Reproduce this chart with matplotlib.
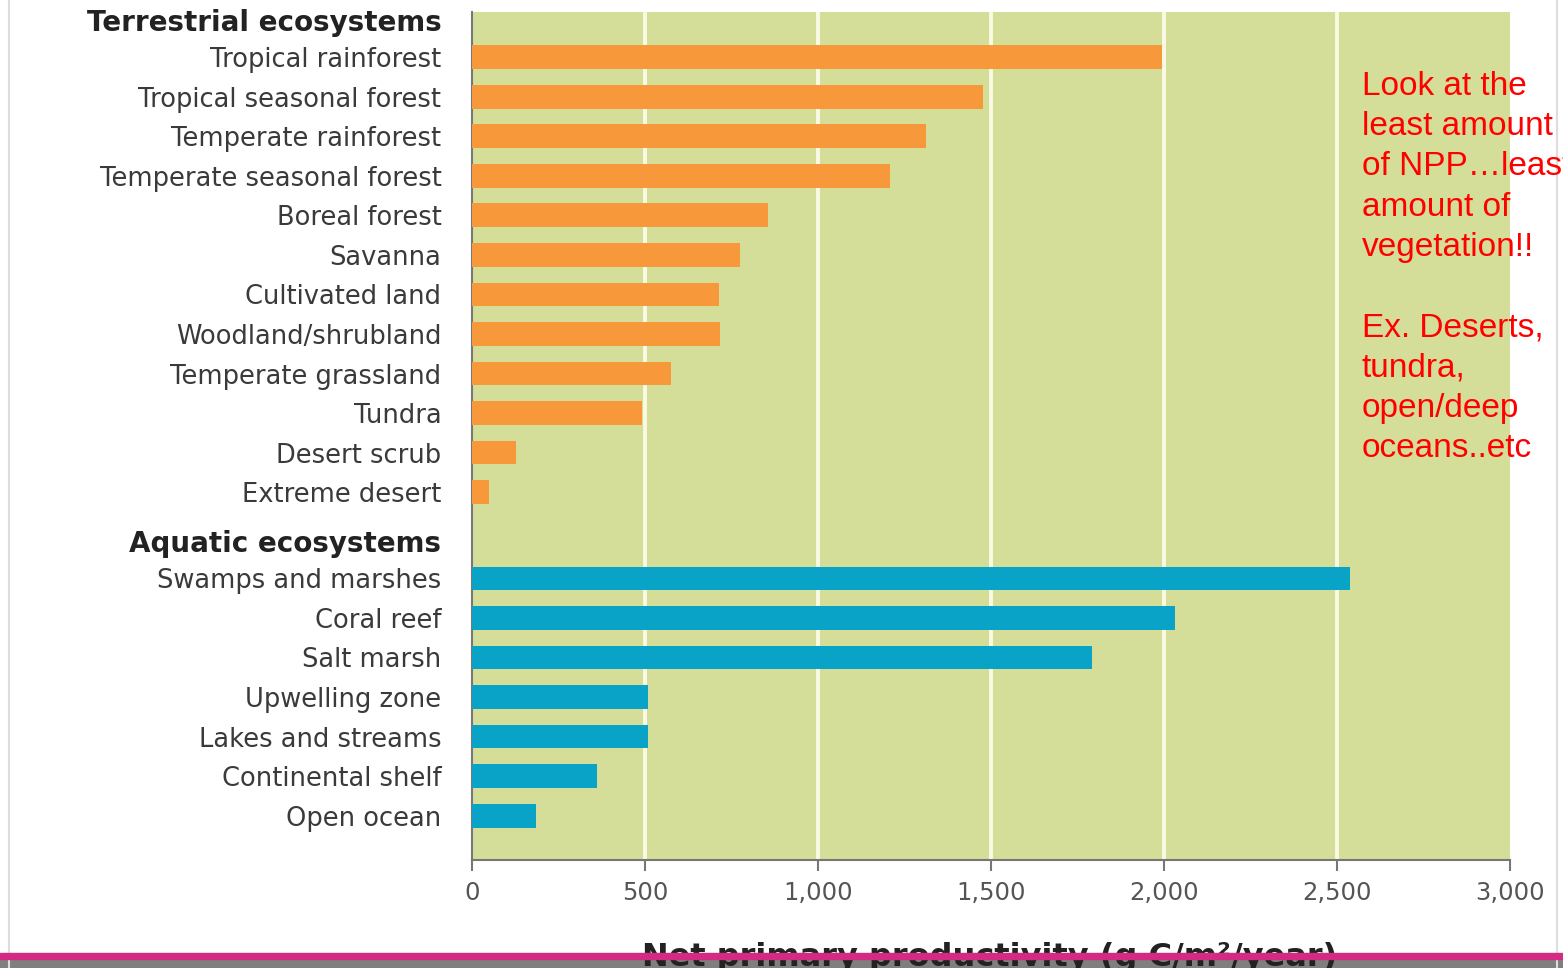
import numpy as np
import matplotlib.pyplot as plt
from matplotlib.patches import Rectangle
from matplotlib.lines import Line2D

# data
terrestrial = ["Tropical rainforest", "Tropical seasonal forest", "Temperate rainforest",
               "Temperate seasonal forest", "Boreal forest", "Savanna", "Cultivated land",
               "Woodland/shrubland", "Temperate grassland", "Tundra", "Desert scrub",
               "Extreme desert"]
terrestrial_npp = [1995, 1478, 1312, 1208, 855, 775, 714, 717, 575, 491, 127, 49]

aquatic = ["Swamps and marshes", "Coral reef", "Salt marsh", "Upwelling zone",
           "Lakes and streams", "Continental shelf", "Open ocean"]
aquatic_npp = [2538, 2032, 1792, 509, 509, 361, 185]

xticks = [0, 500, 1000, 1500, 2000, 2500, 3000]
xticklabels = ["0", "500", "1,000", "1,500", "2,000", "2,500", "3,000"]

note = ("Look at the\nleast amount\nof NPP\u2026least\namount of\nvegetation!!\n\n"
        "Ex. Deserts,\ntundra,\nopen/deep\noceans..etc")

GREEN = "#d5de98"
ORANGE = "#f7993b"
BLUE = "#0aa3c8"

fig = plt.figure(figsize=(15.63, 9.68), dpi=100)
ax = fig.add_axes([472 / 1563, 1 - 860 / 968, (1510 - 472) / 1563, (860 - 12) / 968])
ax.set_facecolor(GREEN)

y_terr = np.arange(len(terrestrial))
y_aq = np.arange(len(aquatic)) + 13.18
y_head = [-0.94, 12.24]

ax.barh(y_terr, terrestrial_npp, height=0.6, color=ORANGE, zorder=3)
ax.barh(y_aq, aquatic_npp, height=0.6, color=BLUE, zorder=3)

for x in xticks[1:-1]:
    ax.axvline(x, color="#fafae4", lw=2.8, zorder=1)

ax.set_xlim(0, 3000)
ax.set_ylim(20.3, -1.14)

ax.set_xticks(xticks)
ax.set_xticklabels(xticklabels, fontsize=17.5, color="#555555")
ax.tick_params(axis="x", length=8, width=1.5, color="#777777", pad=7)

yt = [y_head[0]] + list(y_terr) + [y_head[1]] + list(y_aq)
ylab = ["Terrestrial ecosystems"] + terrestrial + ["Aquatic ecosystems"] + aquatic
ax.set_yticks(yt)
ax.set_yticklabels(ylab, fontsize=18.5, color="#3a3a3a")
ax.tick_params(axis="y", length=0, pad=22)
for t in ax.get_yticklabels():
    if t.get_text().endswith("ecosystems"):
        t.set_fontweight("bold")
        t.set_color("#222222")
        t.set_fontsize(20)

for s in ["top", "right"]:
    ax.spines[s].set_visible(False)
for s in ["left", "bottom"]:
    ax.spines[s].set_color("#777777")
    ax.spines[s].set_linewidth(1.5)

# slide decorations
fig.add_artist(Line2D([9 / 1563, 9 / 1563], [0, 1], color="#dddddd", lw=1.5))
fig.add_artist(Line2D([1557 / 1563, 1557 / 1563], [0, 1], color="#dddddd", lw=1.5))
fig.add_artist(Rectangle((0, 0), 1, 9 / 968, transform=fig.transFigure,
                         color="#7f7f7f", zorder=1))
fig.text(990 / 1563, 1 - 966 / 968, "Net primary productivity (g C/m\u00b2/year)",
         ha="center", va="baseline", fontsize=23, fontweight="bold",
         color="#222222", zorder=2)
fig.add_artist(Rectangle((0, 9 / 968), 1, 6 / 968, transform=fig.transFigure,
                         color="#d42a83", zorder=3))

fig.text(1362 / 1563, 1 - 71 / 968, note, ha="left", va="top", fontsize=24,
         family="Liberation Sans", color="#ff0000", linespacing=1.385, zorder=5)

fig.savefig("out.png", dpi=100)
